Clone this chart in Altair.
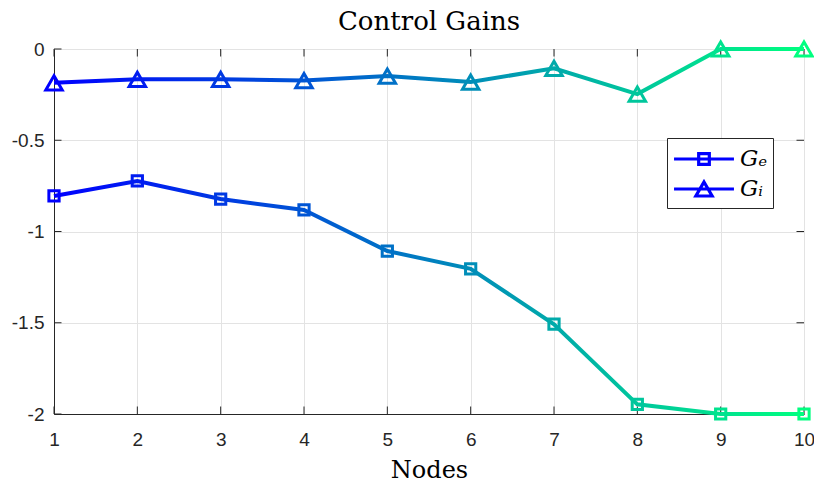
import altair as alt
import pandas as pd

# ---- data ----
nodes = [1, 2, 3, 4, 5, 6, 7, 8, 9, 10]
ge = [-0.805, -0.723, -0.822, -0.882, -1.107, -1.205, -1.508, -1.947, -2.0, -2.0]
gi = [-0.185, -0.166, -0.166, -0.173, -0.148, -0.181, -0.106, -0.247, 0.0, 0.0]
series_labels = ["Gₑ", "Gᵢ"]
x_ticks = [1, 2, 3, 4, 5, 6, 7, 8, 9, 10]
y_ticks = [0, -0.5, -1, -1.5, -2]

# ---- styling ----
W, H = 750, 365
AX = "#262626"
GRID = "#e3e3e3"
START, END = "#0000ff", "#00ff80"
TICK = 7.5

ge_df = pd.DataFrame({"node": nodes, "val": ge})
gi_df = pd.DataFrame({"node": nodes, "val": gi})
leg_df = pd.DataFrame({"node": [nodes[0]] * 2, "val": [y_ticks[0]] * 2, "series": series_labels})
tx_df = pd.DataFrame({"node": x_ticks})
ty_df = pd.DataFrame({"val": y_ticks})

xs = alt.Scale(domain=[1, 10], nice=False, zero=False)
ys = alt.Scale(domain=[-2, 0], nice=False, zero=False)

xaxis = alt.Axis(values=x_ticks, title="Nodes", format="d", grid=True, gridColor=GRID, ticks=False, tickSize=0,
                 domainColor=AX, labelFont="Liberation Sans", labelFontSize=19, labelColor=AX,
                 labelPadding=31.5, labelBaseline="alphabetic", labelFlush=False, labelOverlap=False,
                 titleFont="DejaVu Serif", titleFontSize=24, titleFontWeight="normal", titleColor="black",
                 titleY=63, titleBaseline="alphabetic")
yaxis = alt.Axis(values=y_ticks, title=None, grid=True, gridColor=GRID, ticks=False, tickSize=0,
                 domainColor=AX, labelFont="Liberation Sans", labelFontSize=19, labelColor=AX,
                 labelPadding=10, labelBaseline="middle", labelFlush=False, labelOverlap=False,
                 labelExpr="datum.value == 0 ? '0' : '' + datum.value")

X = alt.X("node:Q", scale=xs, axis=xaxis)
Y = alt.Y("val:Q", scale=ys, axis=yaxis)

grad = alt.LinearGradient(gradient="linear",
                          stops=[alt.GradientStop(color=START, offset=0), alt.GradientStop(color=END, offset=1)],
                          x1=0, x2=1, y1=0, y2=0)

stroke_scale = alt.Scale(domain=[1, 10], range=[START, END], interpolate="rgb")

base_axes = alt.Chart(ge_df).mark_line(opacity=0).encode(x=X, y=Y)

line_ge = alt.Chart(ge_df).mark_line(color=grad, strokeWidth=4).encode(x="node:Q", y="val:Q")
line_gi = alt.Chart(gi_df).mark_line(color=grad, strokeWidth=4).encode(x="node:Q", y="val:Q")

pts_ge = alt.Chart(ge_df).mark_point(shape="square", filled=False, size=105, strokeWidth=3, opacity=1).encode(
    x="node:Q", y="val:Q", stroke=alt.Stroke("node:Q", scale=stroke_scale, legend=None))
pts_gi = alt.Chart(gi_df).mark_point(shape="triangle-up", filled=False, size=270, strokeWidth=3, opacity=1).encode(
    x="node:Q", y="val:Q", stroke=alt.Stroke("node:Q", scale=stroke_scale, legend=None))

P_SQ = "M-2.14,0H2.14M-0.38,-0.38H0.38V0.38H-0.38Z"
P_TRI = "M-2.14,0H2.14M0,-0.5L0.58,0.5L-0.58,0.5Z"

legend_layer = alt.Chart(leg_df).mark_point(color="#0000ff", filled=False, opacity=0, strokeWidth=3).encode(
    x="node:Q", y="val:Q",
    shape=alt.Shape("series:N", scale=alt.Scale(domain=series_labels, range=[P_SQ, P_TRI]),
                    legend=alt.Legend(title=None, orient="none", legendX=613, legendY=89,
                                      fillColor="white", strokeColor=AX, padding=5,
                                      symbolSize=784, symbolStrokeWidth=3.2, symbolStrokeColor="#0000ff",
                                      symbolFillColor="transparent", symbolOpacity=1, symbolOffset=16,
                                      labelOffset=20, labelFont="DejaVu Serif", labelFontStyle="italic",
                                      labelFontSize=23, labelColor="black", rowPadding=2)))

bottom_ticks = alt.Chart(tx_df).mark_rule(color=AX, strokeWidth=1).encode(
    x="node:Q", y=alt.value(H), y2=alt.value(H - TICK))
top_ticks = alt.Chart(tx_df).mark_rule(color=AX, strokeWidth=1).encode(
    x="node:Q", y=alt.value(0), y2=alt.value(TICK))
left_ticks = alt.Chart(ty_df).mark_rule(color=AX, strokeWidth=1).encode(
    y="val:Q", x=alt.value(0), x2=alt.value(TICK))
right_ticks = alt.Chart(ty_df).mark_rule(color=AX, strokeWidth=1).encode(
    y="val:Q", x=alt.value(W), x2=alt.value(W - TICK))

chart = alt.layer(
    base_axes, bottom_ticks, top_ticks, left_ticks, right_ticks,
    line_ge, line_gi, pts_ge, pts_gi, legend_layer
).properties(
    width=W, height=H,
    padding={"left": 54, "top": 49, "right": 10, "bottom": 68},
    autosize=alt.AutoSizeParams(type="none"),
    background="white",
    title=alt.Title("Control Gains", font="DejaVu Serif", fontSize=26, fontWeight="normal",
                    color="black", anchor="middle", baseline="alphabetic", offset=-20),
).configure_view(stroke=AX, strokeWidth=1)

chart.save("out.html", embed_options={"renderer": "svg", "actions": False})
